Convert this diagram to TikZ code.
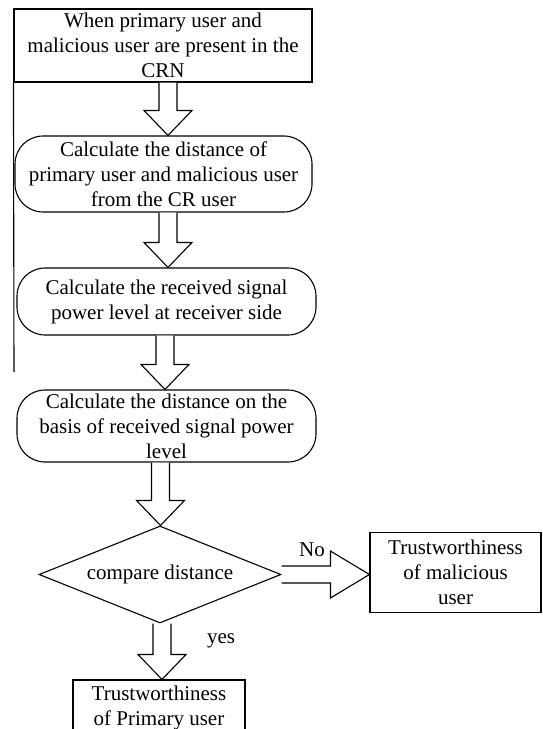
\documentclass[tikz,border=0pt]{standalone}
\usepackage{fontspec}
\setmainfont{Liberation Serif}
\usetikzlibrary{shapes.geometric,calc}
\tikzset{
  box/.style={draw, line width=1.1pt, inner sep=0pt, align=center},
  roundbox/.style={box, rounded corners=28pt},
  decision/.style={box, diamond, aspect=2.5, minimum width=242pt, minimum height=97pt},
  blockarrow/.style={draw, line width=1.1pt, fill=white, line join=miter},
  lbl/.style={inner sep=0pt}
}
\newcommand{\blockdown}[3][0]{\draw[blockarrow] let \p1=(#2.south), \p2=(#3.north) in
  (\x1+#1-9,\y1) -- (\x1+#1-9,\y2+25) -- (\x1+#1-24,\y2+25) -- (\x1+#1,\y2)
  -- (\x1+#1+24,\y2+25) -- (\x1+#1+9,\y2+25) -- (\x1+#1+9,\y1);}
\newcommand{\blockright}[2]{\draw[blockarrow] let \p1=(#1.east), \p2=(#2.west) in
  (\x1,\y1+8.5) -- (\x2-39,\y1+8.5) -- (\x2-39,\y1+23.5) -- (\x2,\y1)
  -- (\x2-39,\y1-23.5) -- (\x2-39,\y1-8.5) -- (\x1,\y1-8.5);}
\begin{document}
\begin{tikzpicture}[x=1pt, y=-1pt, font=\fontsize{21}{25}\selectfont]
\useasboundingbox (0,0) rectangle (542,729);
\clip (0,0) rectangle (542,729);
\node[box, minimum width=298pt, minimum height=73pt] (crn) at (163,45.5) {When primary user and\\malicious user are present in the\\CRN};
\coordinate (rail) at (14,372);
\draw[line width=1.1pt] (crn.south west) -- (rail);
\node[roundbox, minimum width=297pt, minimum height=76pt] (dist) at (163.5,174) {Calculate the distance of\\primary user and malicious user\\from the CR user};
\node[roundbox, minimum width=299pt, minimum height=67pt] (power) at (166.5,301.5) {Calculate the received signal\\power level at receiver side};
\node[roundbox, minimum width=299pt, minimum height=72pt] (basis) at (166.5,426) {Calculate the distance on the\\basis of received signal power\\level};
\node[decision] (cmp) at (160,574.5) {compare distance};
\node[box, minimum width=171pt, minimum height=80pt] (mal) at (455.5,572.5) {Trustworthiness\\of malicious\\user};
\node[box, minimum width=172pt, minimum height=56pt] (prim) at (159,708) {Trustworthiness\\of Primary user};
\node[lbl] (no) at (312,550) {No};
\node[lbl] (yes) at (221,641) {yes};
\blockdown[5]{crn}{dist}
\blockdown[4.5]{dist}{power}
\blockdown[-1.5]{power}{basis}
\blockdown[-6]{basis}{cmp}
\blockright{cmp}{mal}
\blockdown[2]{cmp}{prim}
\end{tikzpicture}
\end{document}
